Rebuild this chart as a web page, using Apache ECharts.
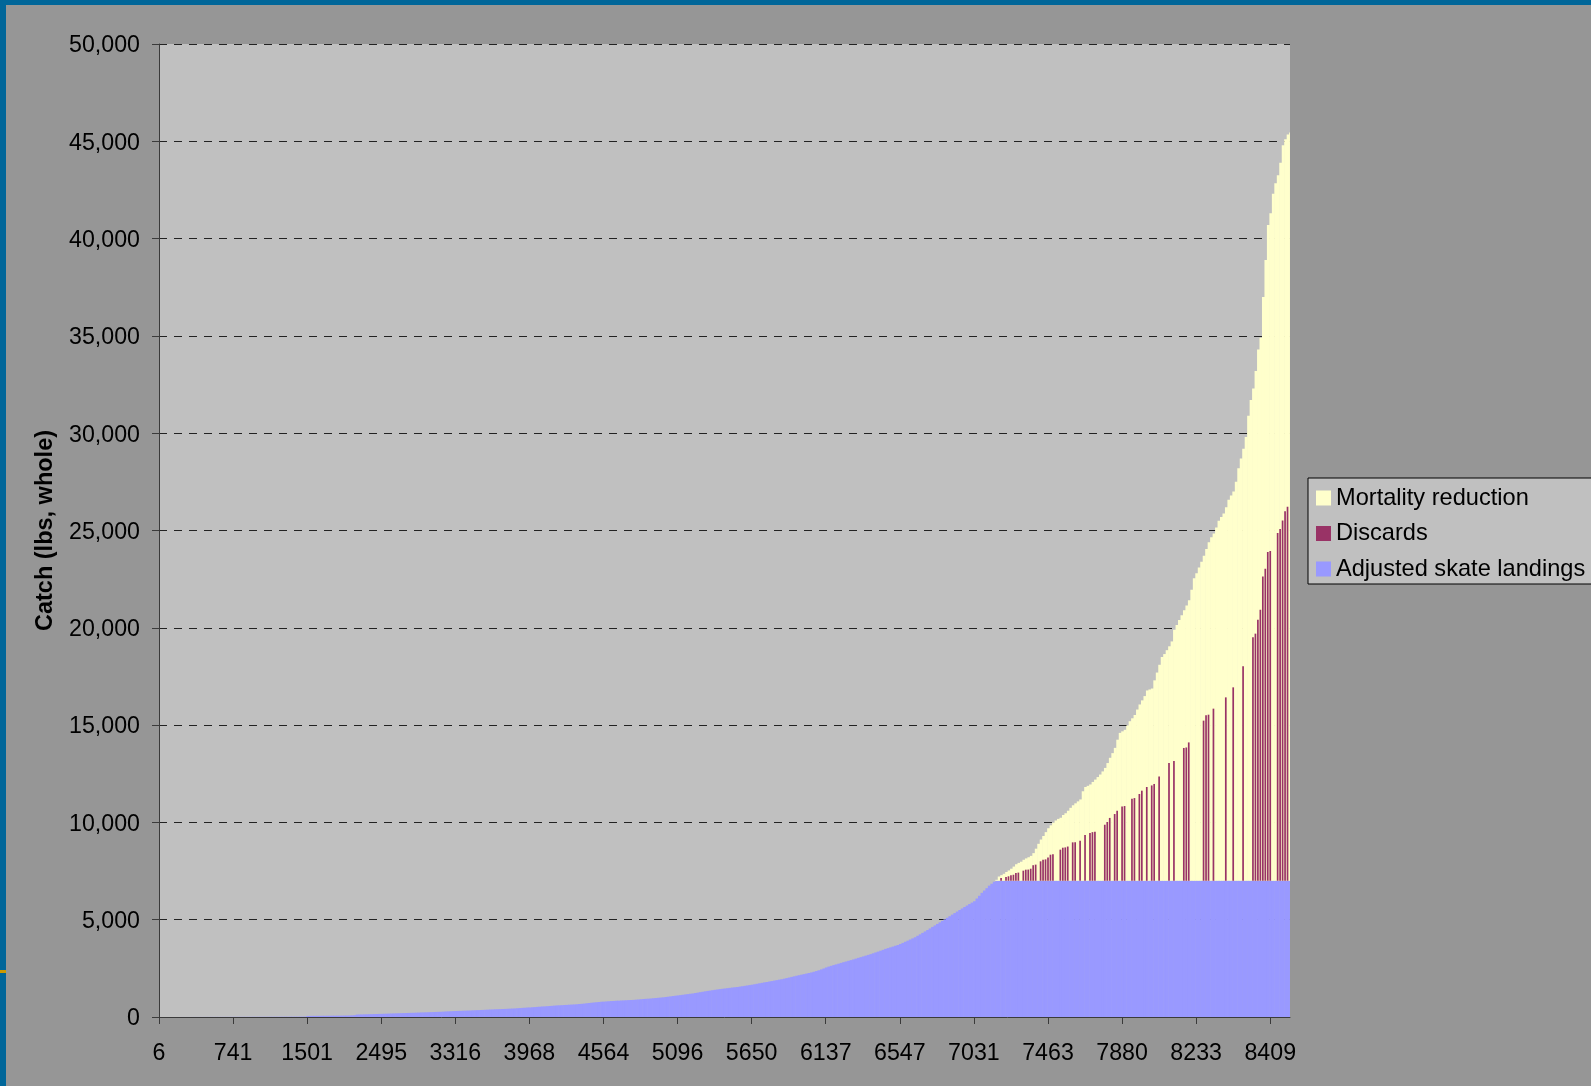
<!DOCTYPE html>
<html>
<head>
<meta charset="utf-8">
<script src="https://cdn.jsdelivr.net/npm/echarts@6/dist/echarts.min.js"></script>
<style>
html,body{margin:0;padding:0;background:#969696;}
#chart{width:1591px;height:1086px;}
</style>
</head>
<body>
<div id="chart"></div>
<script>
// x-axis tick labels (trip ids shown every 30 trips)
const tickLabels = ['6','741','1501','2495','3316','3968','4564','5096','5650','6137','6547','7031','7463','7880','8233','8409'];

// Adjusted skate landings per trip (lbs), trips sorted by catch
const landings = [
0,0,0,0,1,1,1,1,1,2,
2,2,2,2,3,3,3,3,4,4,
4,4,5,5,5,5,6,6,6,7,
7,7,8,8,8,9,9,9,10,10,
10,11,11,11,12,12,12,13,13,14,
14,15,15,16,16,17,18,18,19,20,
55,56,57,58,59,60,61,62,63,64,
65,66,67,68,70,72,74,78,84,95,
125,128,131,134,138,142,146,150,154,158,
162,166,170,175,180,184,188,193,197,201,
205,210,214,218,222,227,232,235,240,245,
250,255,260,265,270,275,285,290,296,302,
308,313,318,322,326,330,335,341,347,353,
359,365,372,380,385,390,395,400,405,410,
416,422,428,435,440,450,460,468,476,485,
490,500,510,520,530,540,545,555,565,575,
585,595,600,608,616,624,632,640,645,656,
667,678,690,705,720,733,746,759,772,785,
790,800,810,818,826,835,840,847,854,861,
868,875,880,891,902,913,924,935,940,952,
964,976,988,1000,1010,1027,1044,1061,1078,1095,
1110,1127,1144,1161,1178,1195,1210,1232,1254,1276,
1298,1320,1340,1359,1378,1397,1416,1435,1450,1466,
1482,1498,1514,1530,1540,1560,1580,1600,1620,1640,
1660,1684,1708,1732,1756,1780,1800,1824,1848,1872,
1896,1920,1940,1970,2000,2030,2060,2090,2120,2148,
2176,2204,2232,2260,2290,2325,2360,2400,2445,2495,
2545,2590,2630,2668,2704,2740,2780,2816,2852,2888,
2924,2960,3000,3038,3076,3114,3152,3190,3230,3274,
3318,3362,3406,3450,3500,3540,3580,3620,3660,3700,
3750,3808,3866,3924,3982,4040,4100,4174,4248,4322,
4396,4470,4550,4628,4706,4784,4862,4940,5020,5100,
5180,5260,5340,5420,5500,5576,5652,5728,5804,5880,
5950,6090,6230,6380,6500,6620,6750,6850,6950,7000,
7000,7000,7000,7000,7000,7000,7000,7000,7000,7000,
7000,7000,7000,7000,7000,7000,7000,7000,7000,7000,
7000,7000,7000,7000,7000,7000,7000,7000,7000,7000,
7000,7000,7000,7000,7000,7000,7000,7000,7000,7000,
7000,7000,7000,7000,7000,7000,7000,7000,7000,7000,
7000,7000,7000,7000,7000,7000,7000,7000,7000,7000,
7000,7000,7000,7000,7000,7000,7000,7000,7000,7000,
7000,7000,7000,7000,7000,7000,7000,7000,7000,7000,
7000,7000,7000,7000,7000,7000,7000,7000,7000,7000,
7000,7000,7000,7000,7000,7000,7000,7000,7000,7000,
7000,7000,7000,7000,7000,7000,7000,7000,7000,7000,
7000,7000,7000,7000,7000,7000,7000,7000,7000
];

// Total catch (top of "Mortality reduction") for the largest trips, starting at trip rank 339
const bigTripStart = 339;
const totalCatch = [
7050,7220,7290,7360,7450,7530,7620,7730,7850,7920,
7980,8080,8150,8210,8280,8420,8650,8900,9120,9300,
9500,9700,9850,9980,10100,10180,10240,10380,10470,10600,
10750,10880,10980,11080,11180,11600,11820,11880,11950,12080,
12200,12330,12460,12620,12800,13050,13320,13560,13830,14250,
14600,14680,14760,14980,15200,15350,15520,15800,16060,16270,
16490,16780,16830,16880,17300,17700,18100,18500,18650,18850,
19050,19300,19900,20150,20400,20650,20900,21150,21420,21950,
22550,22800,23100,23400,23700,24050,24400,24650,24850,25150,
25500,25700,25880,26200,26580,26800,27000,27500,28200,28700,
29200,29800,30900,31700,32300,33200,34300,34900,37000,38900,
40700,41300,42300,42850,43250,43900,44800,45100,45350,45450
];

// Discards: trip ranks where discards are visible, and their amounts (lbs)
const discardRanks = [341,343,344,345,346,347,348,350,351,352,353,354,355,357,358,359,360,361,362,365,366,367,368,370,371,373,375,377,378,379,383,384,385,387,388,390,391,394,395,397,398,400,402,403,405,409,411,415,416,417,423,424,425,427,432,435,439,443,444,445,446,447,448,449,450,453,454,455,456,457];
const discardAmounts = [140,195,230,290,310,400,420,520,570,575,620,800,830,1000,1085,1100,1200,1340,1360,1600,1700,1715,1760,1975,1980,2060,2350,2455,2500,2520,2880,3020,3230,3430,3600,3820,3840,4220,4250,4460,4630,4820,4900,4975,5365,6050,6150,6825,6850,7110,8230,8500,8535,8845,9425,9940,11020,12510,12700,13420,13930,15640,16040,16900,16950,17870,18080,18520,18985,19220];

// ---- build tables for the library ----
const labelStep = 30;
const categories = landings.map((_, i) => (i % labelStep === 0 && tickLabels[i / labelStep]) ? tickLabels[i / labelStep] : '');
const upper = landings.map((l, i) => i >= bigTripStart ? totalCatch[i - bigTripStart] - l : 0);
const discards = landings.map(() => 0);
discardRanks.forEach((r, k) => { discards[r] = discardAmounts[k]; });

const FONT = 'Arial, "Liberation Sans", sans-serif';
const chart = echarts.init(document.getElementById('chart'), null, {renderer: 'canvas'});
chart.setOption({
  animation: false,
  backgroundColor: '#969696',
  grid: {
    left: 159, right: 301, top: 44, bottom: 69,
    show: true, backgroundColor: '#C0C0C0', borderWidth: 0,
    containLabel: false, outerBoundsMode: 'none'
  },
  legend: {
    orient: 'vertical',
    left: 1308, top: 478,
    data: ['Mortality reduction', 'Discards', 'Adjusted skate landings'],
    icon: 'rect',
    itemWidth: 15, itemHeight: 15, itemGap: 11.5,
    padding: [8, 12, 3, 8],
    backgroundColor: '#C0C0C0',
    borderColor: '#000000', borderWidth: 1,
    textStyle: {fontFamily: FONT, fontSize: 23.6, color: '#000', lineHeight: 23},
    selectedMode: false
  },
  xAxis: {
    type: 'category',
    data: categories,
    boundaryGap: false,
    axisLine: {show: true, lineStyle: {color: '#3a3a3a', width: 1}},
    axisTick: {show: true, interval: labelStep - 1, length: 7, lineStyle: {color: '#3a3a3a'}},
    axisLabel: {interval: labelStep - 1, margin: 25, fontFamily: FONT, fontSize: 23.2, color: '#000'},
    splitLine: {show: false}
  },
  yAxis: {
    type: 'value',
    min: 0, max: 50000, interval: 5000,
    name: 'Catch (lbs, whole)',
    nameLocation: 'middle',
    nameRotate: 90,
    nameGap: 101,
    nameTextStyle: {fontFamily: FONT, fontSize: 23.5, fontWeight: 'bold', color: '#000'},
    axisLine: {show: true, lineStyle: {color: '#3a3a3a', width: 1}},
    axisTick: {show: true, length: 7, lineStyle: {color: '#3a3a3a'}},
    axisLabel: {margin: 19, fontFamily: FONT, fontSize: 23.2, color: '#000',
      verticalAlign: 'top', lineHeight: 4,
      formatter: v => v.toLocaleString('en-US')},
    splitLine: {show: true, lineStyle: {color: '#222', width: 1, type: [8, 7]}}
  },
  series: [
    {name: 'Adjusted skate landings', type: 'bar', stack: 'main', data: landings,
     barWidth: 3, barGap: '-100%', clip: true, itemStyle: {color: '#9999FF'}},
    {name: 'Mortality reduction', type: 'bar', stack: 'main', data: upper,
     barWidth: 3, barGap: '-100%', clip: true, itemStyle: {color: '#FFFFCC'}},
    {name: 'base', type: 'bar', stack: 'disc', data: landings, silent: true,
     barWidth: 1.7, barGap: '-100%', clip: true, itemStyle: {color: 'rgba(0,0,0,0)'}},
    {name: 'Discards', type: 'bar', stack: 'disc', data: discards,
     barWidth: 1.7, barGap: '-100%', clip: true, itemStyle: {color: '#993366'}}
  ],
  graphic: [
    {type: 'rect', shape: {x: 1290, y: 40, width: 8, height: 977}, style: {fill: '#969696'}, z: 99, silent: true},
    {type: 'rect', shape: {x: 0, y: 0, width: 1591, height: 5}, style: {fill: '#006699'}, z: 100, silent: true},
    {type: 'rect', shape: {x: 0, y: 0, width: 6, height: 1086}, style: {fill: '#006699'}, z: 100, silent: true},
    {type: 'rect', shape: {x: 0, y: 970, width: 6, height: 3}, style: {fill: '#CC9900'}, z: 101, silent: true}
  ]
});
</script>
</body>
</html>
